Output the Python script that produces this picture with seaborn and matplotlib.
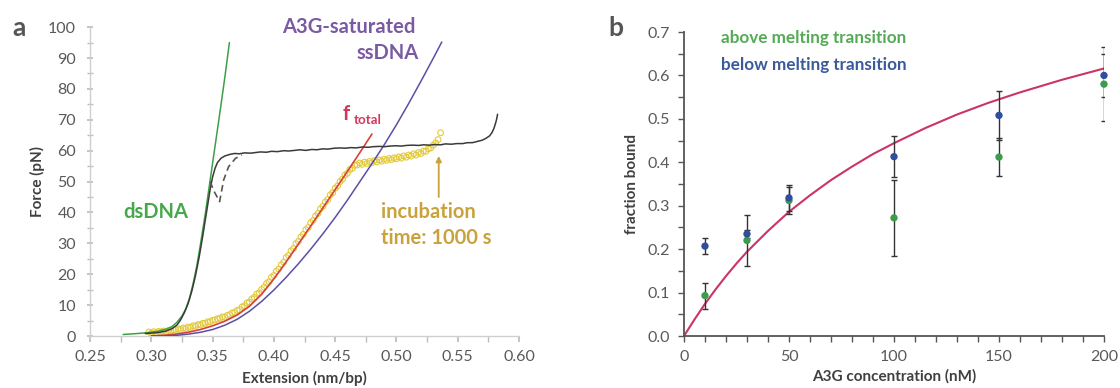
import numpy as np
import pandas as pd
import matplotlib
matplotlib.use("Agg")
import matplotlib.pyplot as plt
from matplotlib.ticker import MultipleLocator, FormatStrFormatter
import seaborn as sns

# -- Data: panel a (force-extension curves) ---------------------------------
dsdna_x = [0.277, 0.285, 0.295, 0.305, 0.312, 0.317, 0.321, 0.325, 0.328,
           0.331, 0.334, 0.337, 0.340, 0.344, 0.348, 0.352, 0.356, 0.360, 0.3637]
dsdna_f = [0.5, 0.7, 1.0, 1.5, 2.2, 3.1, 4.5, 6.5, 8.7,
           12.0, 16.8, 22.5, 29.5, 39.5, 50.5, 61.5, 72.5, 83.8, 95.0]

stretch_x = [0.295, 0.305, 0.312, 0.317, 0.321, 0.324, 0.327, 0.330, 0.333,
             0.336, 0.339, 0.342, 0.345, 0.348, 0.350, 0.352, 0.354, 0.357,
             0.360, 0.364, 0.368, 0.372, 0.376, 0.381, 0.385, 0.389, 0.394,
             0.398, 0.403, 0.408, 0.412, 0.417, 0.421, 0.426, 0.431, 0.435,
             0.440, 0.444, 0.449, 0.454, 0.458, 0.463, 0.467, 0.472, 0.477,
             0.481, 0.486, 0.490, 0.495, 0.499, 0.504, 0.508, 0.513, 0.518,
             0.522, 0.527, 0.531, 0.536, 0.540, 0.545, 0.549, 0.554, 0.558,
             0.562, 0.566, 0.570, 0.573, 0.576, 0.578, 0.5795, 0.5808, 0.5818,
             0.5825]
stretch_f = [0.8, 1.1, 1.6, 2.4, 3.6, 5.3, 7.6, 10.5, 14.5,
             19.5, 25.5, 32.5, 40.0, 47.5, 51.5, 54.3, 56.2, 57.6,
             58.3, 58.8, 59.1, 59.0, 59.3, 59.2, 59.4, 59.6, 59.5,
             59.8, 59.7, 60.0, 59.9, 60.1, 60.3, 60.1, 60.4, 60.3,
             60.6, 60.5, 60.8, 60.9, 60.8, 61.0, 60.9, 61.2, 61.1,
             61.3, 61.4, 61.3, 61.5, 61.6, 61.5, 61.7, 61.8, 61.7,
             61.9, 61.8, 62.0, 61.9, 62.2, 62.1, 62.3, 62.3, 62.6,
             62.6, 63.0, 63.4, 64.0, 64.8, 65.9, 67.2, 68.8, 70.3,
             71.8]

dashed_x = [0.348, 0.351, 0.3557, 0.359, 0.363, 0.3686, 0.3739]
dashed_f = [50.0, 47.0, 43.5, 50.5, 54.8, 57.5, 58.6]

ssdna_x = [0.300, 0.310, 0.320, 0.330, 0.340, 0.350, 0.360, 0.370, 0.380,
           0.390, 0.400, 0.410, 0.420, 0.430, 0.440, 0.450, 0.460, 0.470,
           0.480, 0.490, 0.500, 0.510, 0.520, 0.530, 0.537]
ssdna_f = [0.0, 0.05, 0.2, 0.6, 1.2, 2.1, 3.5, 5.4, 8.0,
           11.2, 14.9, 19.0, 23.4, 28.1, 33.1, 38.4, 44.0, 49.9,
           55.8, 61.9, 68.4, 75.3, 82.5, 89.9, 95.2]

ftotal_x = [0.300, 0.310, 0.320, 0.330, 0.340, 0.350, 0.360, 0.370, 0.380,
            0.390, 0.400, 0.410, 0.420, 0.430, 0.440, 0.450, 0.460, 0.470, 0.480]
ftotal_f = [0.0, 0.2, 0.6, 1.2, 2.1, 3.3, 4.8, 6.8, 9.6,
            13.5, 18.5, 24.0, 29.8, 35.6, 41.5, 47.4, 53.3, 59.3, 65.4]

incub_x = [0.298, 0.300, 0.302, 0.304, 0.306, 0.308, 0.310, 0.312, 0.314, 0.316,
           0.318, 0.320, 0.322, 0.324, 0.326, 0.328, 0.330, 0.332, 0.334, 0.336,
           0.338, 0.340, 0.342, 0.344, 0.346, 0.348, 0.350, 0.352, 0.354, 0.356,
           0.358, 0.360, 0.362, 0.364, 0.366, 0.368, 0.370, 0.372, 0.374, 0.376,
           0.378, 0.380, 0.382, 0.384, 0.386, 0.388, 0.390, 0.392, 0.394, 0.396,
           0.398, 0.400, 0.402, 0.404, 0.406, 0.408, 0.410, 0.412, 0.414, 0.416,
           0.418, 0.420, 0.422, 0.424, 0.426, 0.428, 0.430, 0.432, 0.434, 0.436,
           0.438, 0.440, 0.442, 0.444, 0.446, 0.448, 0.450, 0.452, 0.454, 0.456,
           0.458, 0.460, 0.462, 0.464, 0.466, 0.468, 0.470, 0.472, 0.474, 0.476,
           0.478, 0.480, 0.482, 0.484, 0.486, 0.488, 0.490, 0.492, 0.494, 0.496,
           0.498, 0.500, 0.502, 0.504, 0.506, 0.508, 0.510, 0.512, 0.514, 0.516,
           0.518, 0.520, 0.522, 0.524, 0.526, 0.528, 0.530, 0.532, 0.534, 0.536]
incub_f = [1.3, 0.9, 1.4, 1.1, 1.5, 1.3, 1.6, 1.4, 1.8, 1.6,
           2.0, 1.9, 2.3, 2.1, 2.6, 2.4, 2.9, 2.8, 3.3, 3.2,
           3.7, 3.6, 4.1, 4.1, 4.6, 4.6, 5.1, 5.2, 5.6, 5.7,
           6.2, 6.1, 6.7, 6.9, 7.5, 7.6, 8.3, 8.5, 9.4, 9.8,
           10.7, 11.0, 12.0, 12.5, 13.6, 14.0, 15.1, 15.8, 17.0, 17.6,
           19.0, 19.6, 21.0, 21.7, 23.1, 23.9, 25.4, 26.1, 27.6, 28.3,
           29.9, 30.6, 32.1, 32.9, 34.4, 35.1, 36.7, 37.4, 38.9, 39.7,
           41.2, 42.0, 43.4, 44.2, 45.7, 46.4, 47.9, 48.6, 50.0, 50.8,
           52.1, 52.7, 53.9, 54.3, 55.3, 55.4, 56.0, 55.6, 56.3, 55.9,
           56.5, 56.1, 56.8, 56.4, 57.0, 56.6, 57.2, 56.9, 57.5, 57.1,
           57.7, 57.4, 58.0, 57.6, 58.3, 57.9, 58.6, 58.3, 59.0, 58.6,
           59.4, 59.1, 59.9, 59.8, 60.6, 60.9, 61.8, 62.5, 63.6, 65.8]

# -- Data: panel b (binding isotherm) ---------------------------------------
conc = [10, 30, 50, 100, 150, 200]
above_frac = [0.093, 0.220, 0.312, 0.272, 0.412, 0.580]
above_err = [0.030, 0.058, 0.030, 0.087, 0.044, 0.085]
below_frac = [0.207, 0.235, 0.318, 0.413, 0.508, 0.600]
below_err = [0.018, 0.010, 0.030, 0.048, 0.057, 0.050]

fit_x = [0, 5, 10, 15, 20, 25, 30, 40, 50, 60, 70, 80, 90, 100,
         115, 130, 145, 160, 180, 200]
fit_y = [0.0, 0.038, 0.074, 0.107, 0.138, 0.167, 0.194, 0.242, 0.286, 0.324,
         0.359, 0.390, 0.419, 0.444, 0.479, 0.510, 0.537, 0.561, 0.590, 0.616]

# -- Style -----------------------------------------------------------------
sns.set_theme(style="white")
plt.rcParams["font.family"] = ["Lato", "DejaVu Sans"]

GREEN = "#3f9f47"
PURPLE = "#5c4ea6"
RED = "#d8403a"
GOLD = "#c9a33a"
BLACK = "#3a3a3a"
TICK = "#595959"

fig = plt.figure(figsize=(11.2, 3.88), dpi=100)
ax_a = fig.add_axes([0.0804, 0.134, 0.383, 0.796])
ax_b = fig.add_axes([0.6107, 0.134, 0.375, 0.7835])

# -- Panel a ---------------------------------------------------------------
sns.scatterplot(x=incub_x, y=incub_f, ax=ax_a, marker="o", s=17,
                facecolor="none", edgecolor="#e2ca3e", linewidth=0.8, zorder=2)
sns.lineplot(x=ftotal_x, y=ftotal_f, ax=ax_a, color=RED, lw=1.2, sort=False, zorder=3)
sns.lineplot(x=ssdna_x, y=ssdna_f, ax=ax_a, color=PURPLE, lw=1.1, sort=False, zorder=3)
sns.lineplot(x=dsdna_x, y=dsdna_f, ax=ax_a, color=GREEN, lw=1.1, sort=False, zorder=3)
sns.lineplot(x=stretch_x, y=stretch_f, ax=ax_a, color=BLACK, lw=1.1, sort=False, zorder=4)
sns.lineplot(x=dashed_x, y=dashed_f, ax=ax_a, color="#555555", lw=1.2, sort=False,
             dashes=False, linestyle=(0, (4, 2.5)), zorder=4)

ax_a.set_xlim(0.25, 0.60)
ax_a.set_ylim(0, 100)
ax_a.xaxis.set_major_locator(MultipleLocator(0.05))
ax_a.xaxis.set_minor_locator(MultipleLocator(0.025))
ax_a.yaxis.set_major_locator(MultipleLocator(10))
ax_a.yaxis.set_minor_locator(MultipleLocator(5))
ax_a.xaxis.set_major_formatter(FormatStrFormatter("%.2f"))
for side in ["top", "right"]:
    ax_a.spines[side].set_visible(False)
for side in ["left", "bottom"]:
    ax_a.spines[side].set_color("#cfcfcf")
    ax_a.spines[side].set_linewidth(1.0)
ax_a.tick_params(axis="x", which="both", direction="out", color="#bdbdbd",
                 length=4, labelsize=11.5, labelcolor=TICK, bottom=True, pad=6)
ax_a.tick_params(axis="y", which="both", direction="inout", color="#bdbdbd",
                 length=4, labelsize=11.5, labelcolor=TICK, left=True, pad=8)
ax_a.set_xlabel("Extension (nm/bp)", fontsize=11, fontweight="bold", color="#404040", labelpad=5)
ax_a.set_ylabel("Force (pN)", fontsize=11, fontweight="bold", color="#404040", labelpad=2)

ax_a.text(0.304, 40.1, "dsDNA", color="#45a84a", fontsize=14.5, fontweight="bold",
          ha="center", va="center")
ax_a.text(0.461, 100, "A3G-saturated", color="#7a5aa2", fontsize=14.5, fontweight="bold",
          ha="center", va="center", clip_on=False)
ax_a.text(0.518, 91.6, "ssDNA", color="#7a5aa2", fontsize=14.5, fontweight="bold",
          ha="right", va="center")
ax_a.text(0.456, 69.9, "f", color="#d4375a", fontsize=14.5, fontweight="bold",
          ha="left", va="baseline")
ax_a.text(0.4655, 68.6, "total", color="#d4375a", fontsize=9.5, fontweight="bold",
          ha="left", va="baseline")
ax_a.text(0.487, 40.1, "incubation", color=GOLD, fontsize=14.5, fontweight="bold",
          ha="left", va="center")
ax_a.text(0.487, 31.7, "time: 1000 s", color=GOLD, fontsize=14.5, fontweight="bold",
          ha="left", va="center")
ax_a.annotate("", xy=(0.5345, 58.3), xytext=(0.5345, 45),
              arrowprops=dict(arrowstyle="-|>", color=GOLD, lw=1.3,
                              mutation_scale=8, shrinkA=0, shrinkB=0))

# -- Panel b ---------------------------------------------------------------
sns.lineplot(x=fit_x, y=fit_y, ax=ax_b, color="#cc3366", lw=1.5, zorder=2)
ax_b.errorbar(conc, above_frac, yerr=above_err, fmt="none", ecolor="#333333",
              elinewidth=1.0, capsize=2, capthick=1.0, zorder=3)
ax_b.errorbar(conc, below_frac, yerr=below_err, fmt="none", ecolor="#333333",
              elinewidth=1.0, capsize=2, capthick=1.0, zorder=3)
sns.scatterplot(x=conc, y=above_frac, ax=ax_b, color="#3c9c4c", s=28,
                edgecolor="none", zorder=4, clip_on=False)
sns.scatterplot(x=conc, y=below_frac, ax=ax_b, color="#2f4f9c", s=28,
                edgecolor="none", zorder=5, clip_on=False)

ax_b.set_xlim(0, 200)
ax_b.set_ylim(0, 0.7)
ax_b.xaxis.set_major_locator(MultipleLocator(50))
ax_b.xaxis.set_minor_locator(MultipleLocator(10))
ax_b.yaxis.set_major_locator(MultipleLocator(0.1))
ax_b.yaxis.set_minor_locator(MultipleLocator(0.05))
ax_b.yaxis.set_major_formatter(FormatStrFormatter("%.1f"))
for side in ["top", "right"]:
    ax_b.spines[side].set_visible(False)
for side in ["left", "bottom"]:
    ax_b.spines[side].set_color("#555555")
    ax_b.spines[side].set_linewidth(1.3)
ax_b.tick_params(axis="both", which="both", direction="out", color="#555555",
                 length=4, width=1.0, labelsize=11.5, labelcolor=TICK,
                 bottom=True, left=True)
ax_b.tick_params(axis="x", pad=6)
ax_b.tick_params(axis="y", pad=6)
ax_b.set_xlabel("A3G concentration (nM)", fontsize=11, fontweight="bold", color="#404040", labelpad=4)
ax_b.set_ylabel("fraction bound", fontsize=11, fontweight="bold", color="#404040", labelpad=6)

ax_b.text(17.6, 0.686, "above melting transition", color="#55aa55", fontsize=12.3,
          fontweight="bold", ha="left", va="center")
ax_b.text(17.6, 0.624, "below melting transition", color="#3a5a9a", fontsize=12.3,
          fontweight="bold", ha="left", va="center")

# -- Panel letters ---------------------------------------------------------
fig.text(19 / 1120, 1 - 28 / 388, "a", fontsize=19, fontweight="bold", color="#555555",
         ha="center", va="center")
fig.text(616 / 1120, 1 - 28 / 388, "b", fontsize=19, fontweight="bold", color="#555555",
         ha="center", va="center")

fig.savefig("out.png", dpi=100)
